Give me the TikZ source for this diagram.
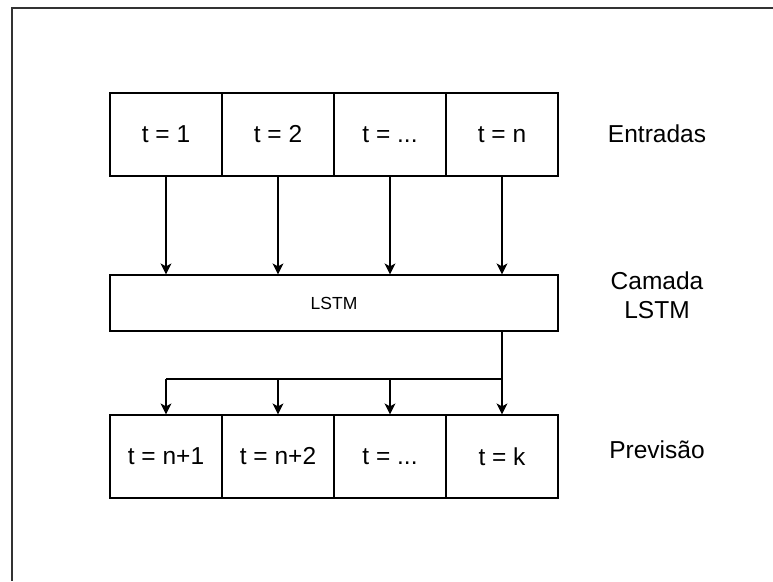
\documentclass[tikz,border=0pt]{standalone}
\usepackage{fontspec}
\setmainfont{Liberation Sans}
\usetikzlibrary{arrows.meta}
\begin{document}
\begin{tikzpicture}[x=1pt,y=-1pt,
  cell/.style={draw=black,line width=1.2pt,minimum width=112pt,minimum height=83pt,inner sep=0pt,font=\fontsize{24.5}{29.4}\selectfont},
  lbl/.style={inner sep=0pt,align=center,font=\fontsize{24.5}{29.4}\selectfont},
  arr/.style={draw=black,line width=1.2pt,-{Stealth[length=11pt,width=11pt,inset=3pt]}},
  wire/.style={draw=black,line width=1.2pt}]
\useasboundingbox (0,0) rectangle (773,581);
\fill[white] (0,0) rectangle (773,581);
\draw[line width=2pt,draw=black!80] (773,8) -- (12,8) -- (12,581);
\node[cell] (i1) at (166,134.5) {t = 1};
\node[cell] (i2) at (278,134.5) {t = 2};
\node[cell] (i3) at (390,134.5) {t = ...};
\node[cell] (i4) at (502,134.5) {t = n};
\node[cell,minimum width=448pt,minimum height=56pt,font=\fontsize{17.5}{21}\selectfont] (lstm) at (334,303) {LSTM};
\node[cell] (o1) at (166,456.5) {t = n+1};
\node[cell] (o2) at (278,456.5) {t = n+2};
\node[cell] (o3) at (390,456.5) {t = ...};
\node[cell] (o4) at (502,456.5) {t = k};
\foreach \i in {1,2,3,4}{
  \draw[arr] (i\i.south) -- (i\i.south |- lstm.north);
}
\coordinate (b1) at (166,379);
\coordinate (b4) at (502,379);
\draw[wire] (b4) -- (b1);
\draw[arr] (lstm.south -| o4.north) -- (o4.north);
\foreach \i in {1,2,3}{
  \draw[arr] (b1 -| o\i.north) -- (o\i.north);
}
\node[lbl] (e) at (657,134) {Entradas};
\node[lbl] (c) at (657,295) {Camada\\LSTM};
\node[lbl] (p) at (657,450) {Previsão};
\end{tikzpicture}
\end{document}
